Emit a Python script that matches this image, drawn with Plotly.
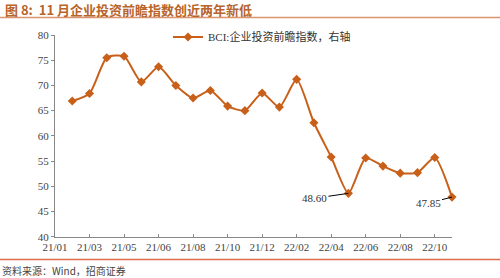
import plotly.graph_objects as go

x_idx = list(range(1, 24))
bci = [66.9, 68.4, 75.5, 75.8, 70.7, 73.7, 70.0, 67.5, 69.0, 65.9, 65.0, 68.5,
       65.7, 71.2, 62.6, 55.8, 48.60, 55.6, 54.0, 52.6, 52.7, 55.7, 47.85]
tick_pos = list(range(0, 24, 2))
tick_text = ["21/01", "21/03", "21/05", "21/06", "21/08", "21/10", "21/12",
             "22/02", "22/04", "22/06", "22/08", "22/10"]
series_name = "BCI:企业投资前瞻指数，右轴"

ORANGE = "#C8601A"
serif = "Liberation Serif, Times New Roman, Noto Sans CJK SC"
W, H = 500, 278
RULES = [(17.5, "#D9956E"), (259.5, "#DC6E48")]  # decorative rule lines (pixel y)


def px(xp):
    return xp / W


def py(yp):
    return 1 - yp / H


fig = go.Figure()
fig.add_trace(go.Scatter(
    x=x_idx, y=bci, mode="lines+markers", name=series_name,
    line=dict(color=ORANGE, width=2, shape="spline", smoothing=0.6),
    marker=dict(symbol="diamond", size=7, color=ORANGE),
    cliponaxis=False,
))

# Decorative rules on a hidden full-figure overlay axis pair
for ypx, col in RULES:
    fig.add_trace(go.Scatter(
        x=[0, W], y=[ypx, ypx], mode="lines", xaxis="x2", yaxis="y2",
        line=dict(color=col, width=1.5), showlegend=False, hoverinfo="skip",
    ))

fig.add_annotation(x=17, y=48.60, text="48.60", showarrow=True, arrowhead=0,
                   arrowwidth=1, arrowcolor="#000000", ax=-34, ay=5,
                   font=dict(family=serif, size=11, color="#333333"))
fig.add_annotation(x=23, y=47.85, text="47.85", showarrow=True, arrowhead=0,
                   arrowwidth=1, arrowcolor="#000000", ax=-24, ay=6,
                   font=dict(family=serif, size=11, color="#333333"))

# Title and source
fig.add_annotation(xref="paper", yref="paper", x=px(3), y=py(9),
                   xanchor="left", yanchor="middle", showarrow=False,
                   text="<b>图 8:  11 月企业投资前瞻指数创近两年新低</b>",
                   font=dict(family="Noto Sans CJK SC", size=13, color="#B8642A"))
fig.add_annotation(xref="paper", yref="paper", x=px(0), y=py(270),
                   xanchor="left", yanchor="middle", showarrow=False,
                   text="资料来源：Wind，招商证券",
                   font=dict(family="Noto Sans CJK SC", size=10, color="#444444"))

fig.update_layout(
    width=W, height=H,
    margin=dict(l=0, r=0, t=0, b=0, autoexpand=False),
    paper_bgcolor="white", plot_bgcolor="rgba(0,0,0,0)",
    showlegend=True,
    legend=dict(x=px(168), y=py(37), xanchor="left", yanchor="middle",
                bgcolor="rgba(0,0,0,0)", font=dict(family=serif, size=11, color="#333333"),
                itemwidth=30),
    xaxis=dict(domain=[px(55), px(452)], range=[0, 23], tickmode="array",
               tickvals=tick_pos, ticktext=tick_text, automargin=False,
               showline=True, linecolor="#888888", linewidth=1, showgrid=False,
               zeroline=False, ticks="inside", ticklen=3, tickcolor="#888888",
               tickfont=dict(family=serif, size=11, color="#444444")),
    yaxis=dict(domain=[py(236.7), py(35)], range=[40, 80], dtick=5, showline=True,
               linecolor="#888888", automargin=False,
               linewidth=1, showgrid=False, zeroline=False, ticks="outside",
               ticklen=3, tickcolor="#888888",
               tickfont=dict(family=serif, size=11, color="#444444")),
    xaxis2=dict(domain=[0, 1], range=[0, W], anchor="y2", visible=False,
                automargin=False, fixedrange=True),
    yaxis2=dict(domain=[0, 1], range=[H, 0], anchor="x2", visible=False,
                automargin=False, fixedrange=True),
)

fig.write_html("out.html")
